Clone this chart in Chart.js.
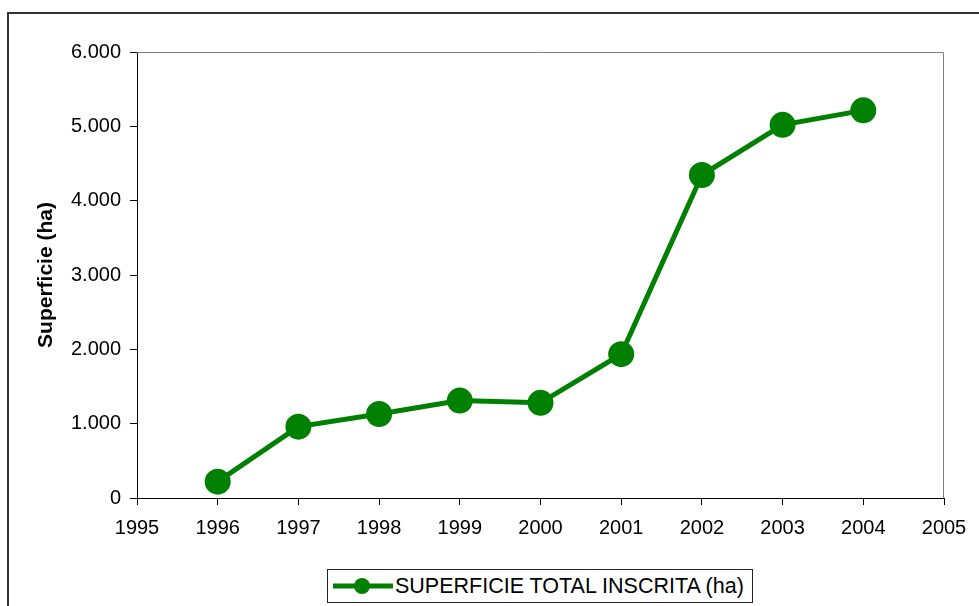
<!DOCTYPE html>
<html>
<head>
<meta charset="utf-8">
<script src="https://cdn.jsdelivr.net/npm/chart.js@4.4.1/dist/chart.umd.min.js"></script>
<style>
  html, body { margin: 0; padding: 0; background: #fff; overflow: hidden; }
  #wrap { position: relative; width: 979px; height: 606px; }
  #c { position: absolute; left: 0; top: 0; }
  #legend {
    position: absolute; left: 327px; top: 569px; width: 424px; height: 32px;
    border: 1px solid #222; background: #fff; box-sizing: content-box;
    font-family: "Liberation Sans", Arial, sans-serif; font-size: 21.5px; color: #000;
    display: flex; align-items: center; white-space: nowrap;
  }
  #legend svg { margin-left: 5px; margin-right: 2px; flex: none; }
</style>
</head>
<body>
<div id="wrap">
  <canvas id="c" width="979" height="606"></canvas>
  <div id="legend">
    <svg width="60" height="20"><line x1="0" y1="10" x2="60" y2="10" stroke="#008000" stroke-width="5"/><circle cx="29" cy="10" r="8" fill="#008000"/></svg>
    <span id="legendText"></span>
  </div>
</div>
<script>
const years = [1996, 1997, 1998, 1999, 2000, 2001, 2002, 2003, 2004];
const superficie = [220, 960, 1130, 1310, 1280, 1935, 4345, 5020, 5215];
const seriesName = 'SUPERFICIE TOTAL INSCRITA (ha)';
const yTitle = 'Superficie (ha)';
const xMin = 1995, xMax = 2005;
const yMin = 0, yMax = 6000, yStep = 1000;

document.getElementById('legendText').textContent = seriesName;

function fmtThousands(v) {
  return String(Math.round(v)).replace(/\B(?=(\d{3})+(?!\d))/g, '.');
}

const frame = {
  id: 'frame',
  beforeDraw(chart) {
    const ctx = chart.ctx;
    ctx.save();
    ctx.strokeStyle = '#333';
    ctx.lineWidth = 2;
    ctx.beginPath();
    ctx.moveTo(8, 606);
    ctx.lineTo(8, 13);
    ctx.lineTo(979, 13);
    ctx.stroke();
    ctx.restore();
  },
  beforeDatasetsDraw(chart) {
    const a = chart.chartArea, ctx = chart.ctx;
    ctx.save();
    ctx.strokeStyle = '#808080';
    ctx.lineWidth = 1;
    ctx.beginPath();
    ctx.moveTo(a.left, a.top + 0.5);
    ctx.lineTo(a.right - 0.5, a.top + 0.5);
    ctx.lineTo(a.right - 0.5, a.bottom);
    ctx.stroke();
    ctx.restore();
  }
};

const font = { family: '"Liberation Sans", Arial, sans-serif', size: 20 };

new Chart(document.getElementById('c'), {
  type: 'line',
  data: {
    datasets: [{
      label: seriesName,
      data: years.map((y, i) => ({ x: y, y: superficie[i] })),
      borderColor: '#008000',
      backgroundColor: '#008000',
      borderWidth: 5,
      pointRadius: 12,
      pointBorderWidth: 2,
      pointBackgroundColor: '#008000',
      pointBorderColor: '#008000',
      tension: 0,
      fill: false
    }]
  },
  options: {
    responsive: false,
    animation: false,
    layout: { padding: { left: 30, top: 52, right: 35, bottom: 68 } },
    plugins: { legend: { display: false }, tooltip: { enabled: false } },
    scales: {
      x: {
        type: 'linear',
        min: xMin, max: xMax,
        afterFit(s) { s.height = 40; },
        ticks: { stepSize: 1, color: '#000', font, padding: 11, maxRotation: 0, callback: v => String(v) },
        grid: { display: true, drawOnChartArea: false, drawTicks: true, tickLength: 7, color: '#000' },
        border: { display: true, color: '#000', width: 1 }
      },
      y: {
        min: yMin, max: yMax,
        afterFit(s) { s.width = 107; },
        ticks: { stepSize: yStep, color: '#000', font, padding: 9, callback: v => fmtThousands(v) },
        grid: { display: true, drawOnChartArea: false, drawTicks: true, tickLength: 7, color: '#000' },
        border: { display: true, color: '#000', width: 1 },
        title: { display: true, text: yTitle, color: '#000', font: { family: font.family, size: 21, weight: 'bold' }, padding: { top: 4, bottom: 4 } }
      }
    }
  },
  plugins: [frame]
});
</script>
</body>
</html>
